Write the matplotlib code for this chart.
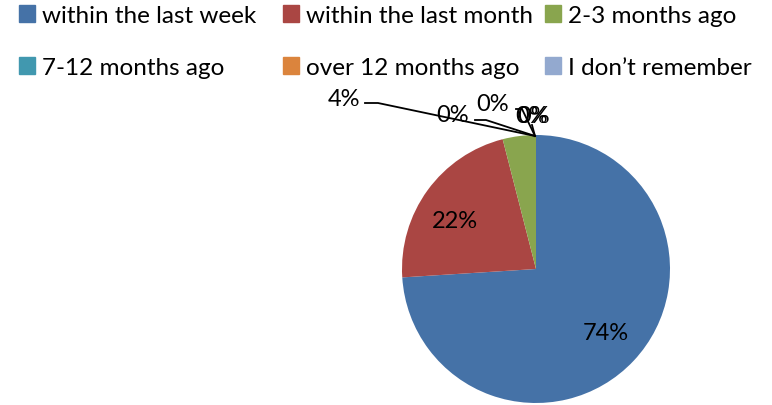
import matplotlib.pyplot as plt
from matplotlib.patches import Patch

# donnees
categories = ["within the last week", "within the last month", "2-3 months ago",
              "7-12 months ago", "over 12 months ago", "I don\u2019t remember"]
valeurs = [74, 22, 4, 0, 0, 0]
couleurs = ["#4572A7", "#AA4643", "#89A54E", "#4198AF", "#DB843D", "#93A9CF"]

plt.rcParams['font.family'] = ['Lato', 'DejaVu Sans']
taille = 17

fig = plt.figure(figsize=(7.72, 4.06), dpi=100)
ax = fig.add_axes([402/772, 2/406, 268/772, 268/406])

wedges, _ = ax.pie(valeurs, colors=couleurs, startangle=90, counterclock=False,
                   radius=1.0, wedgeprops=dict(linewidth=0))
ax.set_xlim(-1, 1)
ax.set_ylim(-1, 1)
ax.set_aspect('equal')

# coord. figure en pixels
def px(x, y):
	return (x/772, 1 - y/406)

# etiquettes interieures
fig.text(*px(606, 333), "74%", fontsize=taille, ha='center', va='center')
fig.text(*px(455, 222), "22%", fontsize=taille, ha='center', va='center')

# etiquettes exterieures avec lignes de rappel
top = px(535, 137)
fig.text(*px(344, 99), "4%", fontsize=taille, ha='center', va='center')
fig.add_artist(plt.Line2D([365/772, 378/772, top[0]], [1-104/406, 1-104/406, top[1]],
                          color='black', linewidth=1.3))
fig.text(*px(453, 116), "0%", fontsize=taille, ha='center', va='center')
fig.add_artist(plt.Line2D([475/772, 486/772, top[0]], [1-121/406, 1-121/406, top[1]],
                          color='black', linewidth=1.3))
fig.text(*px(493, 105), "0%", fontsize=taille, ha='center', va='center')
fig.add_artist(plt.Line2D([516/772, 522/772, top[0]], [1-110/406, 1-110/406, top[1]],
                          color='black', linewidth=1.3))
fig.text(*px(532, 117), "0%", fontsize=taille, ha='center', va='center')
fig.text(*px(534, 117), "0%", fontsize=taille, ha='center', va='center')
fig.add_artist(plt.Line2D([532/772, top[0]], [1-126/406, top[1]],
                          color='black', linewidth=1.3))

# legende : trois colonnes de deux entrees
poignees = [Patch(color=c) for c in couleurs]
colonnes = [(0, 3, 14), (1, 4, 278), (2, 5, 540)]
for i, j, x0 in colonnes:
	fig.legend([poignees[i], poignees[j]], [categories[i], categories[j]],
	           loc='upper left', bbox_to_anchor=(x0/772, 1 - 1/406), frameon=False,
	           fontsize=17.5, handlelength=0.66, handleheight=0.66, handletextpad=0.3,
	           labelspacing=1.29, borderpad=0.2, borderaxespad=0.0)

fig.savefig("out.png", dpi=100)
